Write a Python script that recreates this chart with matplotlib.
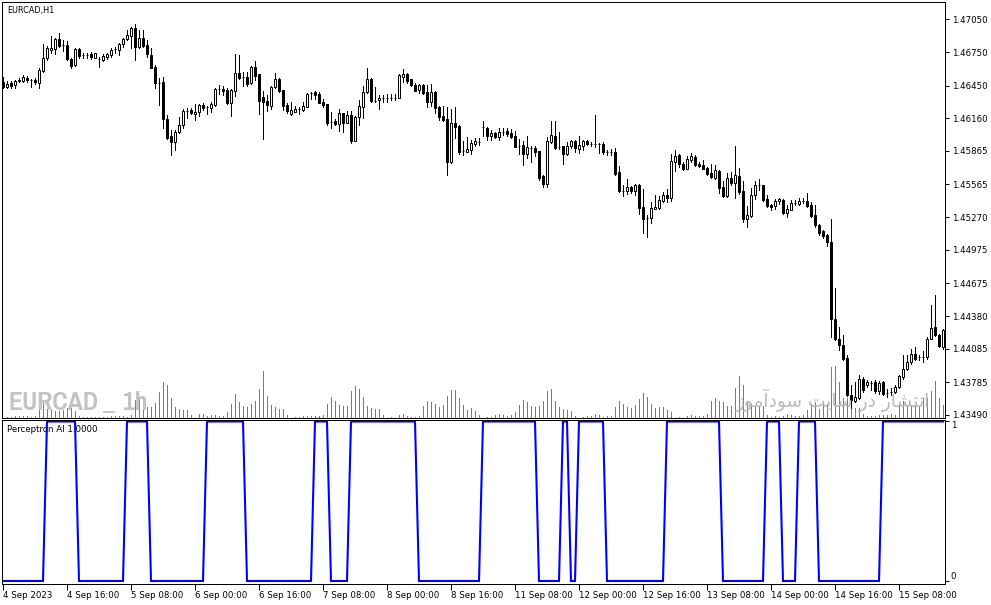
import matplotlib
matplotlib.use("Agg")
import matplotlib.pyplot as plt
from matplotlib import font_manager
from matplotlib.font_manager import FontProperties

# EURCAD H1 bars, 4 Sep 2023 00:00 .. 15 Sep 2023 19:00
opens = [
    1.46486, 1.46435, 1.46471, 1.46456, 1.46492, 1.46492, 1.46522, 1.46501,
    1.46501, 1.46477, 1.46582, 1.46696, 1.46771, 1.46780, 1.46870, 1.46816,
    1.46816, 1.46687, 1.46636, 1.46780, 1.46726, 1.46726, 1.46732, 1.46702,
    1.46687, 1.46678, 1.46711, 1.46726, 1.46777, 1.46771, 1.46822, 1.46870,
    1.46900, 1.46972, 1.46801, 1.46882, 1.46816, 1.46726, 1.46621, 1.46477,
    1.46480, 1.46150, 1.46000, 1.45946, 1.46030, 1.46096, 1.46222, 1.46231,
    1.46192, 1.46210, 1.46276, 1.46255, 1.46252, 1.46276, 1.46420, 1.46420,
    1.46411, 1.46297, 1.46402, 1.46561, 1.46528, 1.46528, 1.46471, 1.46618,
    1.46552, 1.46351, 1.46312, 1.46270, 1.46441, 1.46510, 1.46411, 1.46276,
    1.46195, 1.46216, 1.46240, 1.46231, 1.46261, 1.46381, 1.46390, 1.46375,
    1.46303, 1.46282, 1.46120, 1.46132, 1.46108, 1.46201, 1.46117, 1.46186,
    1.45952, 1.46171, 1.46261, 1.46390, 1.46510, 1.46315, 1.46318, 1.46342,
    1.46342, 1.46342, 1.46342, 1.46342, 1.46531, 1.46552, 1.46507, 1.46456,
    1.46408, 1.46456, 1.46390, 1.46306, 1.46390, 1.46258, 1.46177, 1.46150,
    1.45766, 1.46111, 1.46090, 1.45862, 1.45856, 1.45871, 1.45928, 1.45946,
    1.46081, 1.46072, 1.46000, 1.46027, 1.45991, 1.46036, 1.46042, 1.46021,
    1.45997, 1.45910, 1.45916, 1.45832, 1.45892, 1.45892, 1.45862, 1.45637,
    1.45571, 1.45946, 1.46000, 1.45895, 1.45907, 1.45832, 1.45907, 1.45955,
    1.45877, 1.45910, 1.45955, 1.45922, 1.45922, 1.45922, 1.45928, 1.45850,
    1.45850, 1.45856, 1.45676, 1.45502, 1.45502, 1.45541, 1.45502, 1.45556,
    1.45358, 1.45262, 1.45262, 1.45346, 1.45352, 1.45418, 1.45466, 1.45442,
    1.45766, 1.45826, 1.45751, 1.45700, 1.45787, 1.45811, 1.45748, 1.45736,
    1.45712, 1.45664, 1.45625, 1.45685, 1.45538, 1.45460, 1.45622, 1.45580,
    1.45640, 1.45502, 1.45250, 1.45277, 1.45472, 1.45562, 1.45556, 1.45436,
    1.45376, 1.45367, 1.45412, 1.45427, 1.45310, 1.45337, 1.45397, 1.45391,
    1.45415, 1.45415, 1.45376, 1.45286, 1.45202, 1.45142, 1.45106, 1.45046,
    1.44356, 1.44176, 1.44122, 1.44002, 1.43672, 1.43615, 1.43642, 1.43816,
    1.43762, 1.43777, 1.43786, 1.43702, 1.43786, 1.43687, 1.43696, 1.43696,
    1.43741, 1.43831, 1.43900, 1.43966, 1.44041, 1.44011, 1.44011, 1.44011,
    1.44176, 1.44281, 1.44212, 1.44101,
]
highs = [
    1.46531, 1.46492, 1.46492, 1.46501, 1.46516, 1.46546, 1.46537, 1.46510,
    1.46516, 1.46612, 1.46822, 1.46810, 1.46900, 1.46876, 1.46921, 1.46861,
    1.46852, 1.46702, 1.46792, 1.46786, 1.46741, 1.46741, 1.46750, 1.46747,
    1.46711, 1.46732, 1.46747, 1.46786, 1.46801, 1.46831, 1.46882, 1.46951,
    1.46981, 1.47002, 1.46951, 1.46951, 1.46861, 1.46786, 1.46636, 1.46522,
    1.46531, 1.46186, 1.46051, 1.46051, 1.46171, 1.46237, 1.46252, 1.46252,
    1.46282, 1.46282, 1.46291, 1.46270, 1.46300, 1.46426, 1.46456, 1.46447,
    1.46426, 1.46420, 1.46732, 1.46726, 1.46576, 1.46576, 1.46627, 1.46672,
    1.46558, 1.46402, 1.46366, 1.46450, 1.46561, 1.46522, 1.46411, 1.46291,
    1.46306, 1.46270, 1.46261, 1.46300, 1.46387, 1.46396, 1.46402, 1.46390,
    1.46330, 1.46285, 1.46210, 1.46147, 1.46240, 1.46207, 1.46225, 1.46225,
    1.46180, 1.46321, 1.46450, 1.46612, 1.46516, 1.46441, 1.46366, 1.46366,
    1.46378, 1.46378, 1.46372, 1.46552, 1.46600, 1.46561, 1.46510, 1.46471,
    1.46462, 1.46462, 1.46456, 1.46465, 1.46402, 1.46270, 1.46270, 1.46261,
    1.46240, 1.46261, 1.46096, 1.45952, 1.45991, 1.45961, 1.45976, 1.45982,
    1.46132, 1.46081, 1.46051, 1.46036, 1.46066, 1.46066, 1.46066, 1.46060,
    1.46042, 1.45967, 1.45952, 1.46000, 1.45910, 1.45907, 1.45862, 1.45652,
    1.45991, 1.46132, 1.46132, 1.46030, 1.45907, 1.45946, 1.45958, 1.45961,
    1.46000, 1.45958, 1.45964, 1.45940, 1.46186, 1.45934, 1.45940, 1.45871,
    1.45877, 1.45892, 1.45730, 1.45556, 1.45616, 1.45550, 1.45571, 1.45571,
    1.45526, 1.45286, 1.45406, 1.45466, 1.45460, 1.45496, 1.45526, 1.45832,
    1.45871, 1.45832, 1.45766, 1.45820, 1.45841, 1.45826, 1.45766, 1.45781,
    1.45721, 1.45751, 1.45736, 1.45697, 1.45592, 1.45670, 1.45676, 1.45907,
    1.45712, 1.45592, 1.45370, 1.45532, 1.45592, 1.45616, 1.45562, 1.45466,
    1.45391, 1.45436, 1.45442, 1.45436, 1.45382, 1.45421, 1.45421, 1.45442,
    1.45442, 1.45487, 1.45406, 1.45376, 1.45211, 1.45157, 1.45121, 1.45250,
    1.44632, 1.44281, 1.44212, 1.44026, 1.43756, 1.43786, 1.43852, 1.43831,
    1.43801, 1.43792, 1.43801, 1.43792, 1.43792, 1.43726, 1.43732, 1.43756,
    1.43846, 1.44026, 1.44032, 1.44086, 1.44101, 1.44032, 1.44062, 1.44191,
    1.44476, 1.44572, 1.44221, 1.44266,
]
lows = [
    1.46426, 1.46432, 1.46432, 1.46432, 1.46480, 1.46486, 1.46486, 1.46441,
    1.46462, 1.46432, 1.46576, 1.46681, 1.46741, 1.46732, 1.46801, 1.46762,
    1.46681, 1.46606, 1.46627, 1.46696, 1.46702, 1.46702, 1.46687, 1.46702,
    1.46621, 1.46672, 1.46687, 1.46711, 1.46741, 1.46726, 1.46801, 1.46861,
    1.46786, 1.46681, 1.46786, 1.46801, 1.46711, 1.46606, 1.46426, 1.46276,
    1.46072, 1.45970, 1.45826, 1.45871, 1.46021, 1.46072, 1.46162, 1.46192,
    1.46141, 1.46180, 1.46231, 1.46192, 1.46216, 1.46270, 1.46375, 1.46366,
    1.46285, 1.46180, 1.46360, 1.46510, 1.46450, 1.46450, 1.46462, 1.46504,
    1.46195, 1.45970, 1.46222, 1.46240, 1.46432, 1.46390, 1.46231, 1.46201,
    1.46186, 1.46210, 1.46192, 1.46222, 1.46261, 1.46330, 1.46330, 1.46291,
    1.46261, 1.46096, 1.46072, 1.46096, 1.46042, 1.46036, 1.46111, 1.45937,
    1.45952, 1.46096, 1.46156, 1.46381, 1.46300, 1.46300, 1.46240, 1.46300,
    1.46306, 1.46321, 1.46324, 1.46336, 1.46486, 1.46471, 1.46447, 1.46402,
    1.46387, 1.46372, 1.46261, 1.46270, 1.46207, 1.46141, 1.46132, 1.45646,
    1.45757, 1.45976, 1.45835, 1.45826, 1.45850, 1.45838, 1.45910, 1.45916,
    1.46000, 1.45961, 1.45961, 1.45982, 1.45961, 1.46006, 1.46000, 1.45982,
    1.45895, 1.45832, 1.45736, 1.45802, 1.45766, 1.45820, 1.45607, 1.45541,
    1.45541, 1.45937, 1.45880, 1.45880, 1.45745, 1.45826, 1.45892, 1.45856,
    1.45841, 1.45871, 1.45916, 1.45907, 1.45901, 1.45841, 1.45832, 1.45826,
    1.45826, 1.45646, 1.45496, 1.45460, 1.45481, 1.45487, 1.45466, 1.45301,
    1.45130, 1.45091, 1.45220, 1.45340, 1.45340, 1.45406, 1.45406, 1.45418,
    1.45682, 1.45721, 1.45691, 1.45700, 1.45766, 1.45730, 1.45718, 1.45700,
    1.45652, 1.45622, 1.45616, 1.45490, 1.45448, 1.45451, 1.45562, 1.45442,
    1.45481, 1.45226, 1.45181, 1.45271, 1.45436, 1.45511, 1.45415, 1.45358,
    1.45331, 1.45346, 1.45391, 1.45295, 1.45271, 1.45331, 1.45382, 1.45382,
    1.45397, 1.45361, 1.45268, 1.45181, 1.45112, 1.45082, 1.45010, 1.44191,
    1.44161, 1.44071, 1.43987, 1.43657, 1.43552, 1.43606, 1.43630, 1.43696,
    1.43741, 1.43711, 1.43690, 1.43681, 1.43666, 1.43651, 1.43672, 1.43687,
    1.43732, 1.43816, 1.43891, 1.43951, 1.43981, 1.43987, 1.43966, 1.43996,
    1.44170, 1.44197, 1.44101, 1.44086,
]
closes = [
    1.46441, 1.46465, 1.46450, 1.46492, 1.46501, 1.46528, 1.46501, 1.46501,
    1.46480, 1.46591, 1.46696, 1.46792, 1.46792, 1.46870, 1.46810, 1.46816,
    1.46687, 1.46630, 1.46780, 1.46720, 1.46726, 1.46726, 1.46708, 1.46741,
    1.46687, 1.46720, 1.46732, 1.46771, 1.46777, 1.46822, 1.46870, 1.46906,
    1.46966, 1.46801, 1.46882, 1.46810, 1.46732, 1.46612, 1.46471, 1.46477,
    1.46150, 1.45982, 1.45946, 1.46036, 1.46096, 1.46222, 1.46222, 1.46207,
    1.46216, 1.46276, 1.46252, 1.46255, 1.46282, 1.46420, 1.46420, 1.46405,
    1.46297, 1.46411, 1.46561, 1.46522, 1.46528, 1.46468, 1.46618, 1.46540,
    1.46312, 1.46306, 1.46276, 1.46438, 1.46510, 1.46402, 1.46270, 1.46222,
    1.46231, 1.46243, 1.46240, 1.46270, 1.46378, 1.46381, 1.46366, 1.46297,
    1.46276, 1.46117, 1.46120, 1.46108, 1.46201, 1.46117, 1.46186, 1.45952,
    1.46171, 1.46267, 1.46390, 1.46510, 1.46312, 1.46315, 1.46342, 1.46342,
    1.46342, 1.46342, 1.46342, 1.46546, 1.46552, 1.46495, 1.46456, 1.46402,
    1.46456, 1.46387, 1.46306, 1.46390, 1.46252, 1.46171, 1.46141, 1.45766,
    1.46111, 1.46081, 1.45850, 1.45862, 1.45877, 1.45931, 1.45952, 1.45946,
    1.46081, 1.46000, 1.46027, 1.45991, 1.46036, 1.46036, 1.46012, 1.45991,
    1.45901, 1.45910, 1.45832, 1.45898, 1.45892, 1.45856, 1.45622, 1.45571,
    1.45952, 1.46006, 1.45892, 1.45895, 1.45832, 1.45907, 1.45952, 1.45886,
    1.45916, 1.45952, 1.45925, 1.45922, 1.45922, 1.45922, 1.45850, 1.45850,
    1.45850, 1.45661, 1.45502, 1.45502, 1.45541, 1.45502, 1.45562, 1.45352,
    1.45256, 1.45262, 1.45352, 1.45361, 1.45421, 1.45466, 1.45442, 1.45772,
    1.45820, 1.45751, 1.45700, 1.45790, 1.45817, 1.45742, 1.45730, 1.45706,
    1.45661, 1.45631, 1.45691, 1.45532, 1.45457, 1.45625, 1.45577, 1.45646,
    1.45496, 1.45256, 1.45286, 1.45472, 1.45562, 1.45562, 1.45427, 1.45370,
    1.45364, 1.45412, 1.45430, 1.45307, 1.45340, 1.45400, 1.45397, 1.45418,
    1.45415, 1.45370, 1.45280, 1.45202, 1.45130, 1.45100, 1.45046, 1.44356,
    1.44176, 1.44122, 1.43996, 1.43666, 1.43621, 1.43651, 1.43816, 1.43711,
    1.43786, 1.43777, 1.43702, 1.43780, 1.43681, 1.43687, 1.43696, 1.43741,
    1.43837, 1.43906, 1.43966, 1.44041, 1.43996, 1.44011, 1.44011, 1.44176,
    1.44275, 1.44206, 1.44110, 1.44251,
]
tick_volumes = [
    50, 100, 130, 170, 170, 170, 170, 130, 230, 900, 1470, 900, 800, 670, 730, 800,
    970, 1000, 670, 230, 100, 100, 100, 100, 100, 70, 130, 230, 230, 230, 230, 70,
    330, 1800, 2070, 2130, 1130, 1070, 1470, 2630, 3630, 3330, 2000, 1070, 900, 800, 800, 330,
    50, 430, 430, 230, 330, 330, 230, 230, 570, 1430, 2430, 1570, 1170, 1070, 1430, 1730,
    2930, 4730, 2230, 1330, 1070, 930, 930, 330, 50, 100, 100, 230, 230, 170, 230, 170,
    330, 1430, 2070, 1670, 1330, 1230, 1230, 2670, 3170, 2930, 2070, 1230, 1000, 930, 930, 330,
    50, 100, 50, 330, 430, 230, 100, 100, 230, 1230, 1730, 1600, 1430, 1100, 1330, 2170,
    2830, 2830, 2000, 1330, 830, 1000, 730, 330, 50, 100, 100, 330, 430, 330, 230, 330,
    600, 1330, 1830, 1570, 1230, 1100, 1230, 1730, 2670, 2930, 1730, 1100, 930, 830, 730, 230,
    50, 100, 170, 230, 430, 330, 100, 230, 230, 1100, 1730, 1430, 1100, 1000, 1330, 1930,
    2530, 2130, 1430, 1000, 1130, 1130, 830, 600, 50, 100, 50, 230, 330, 230, 230, 230,
    430, 1730, 2000, 1730, 1600, 1230, 1230, 3000, 4230, 3330, 1670, 1430, 1170, 1170, 1170, 330,
    100, 230, 100, 170, 430, 330, 170, 170, 330, 830, 1430, 1570, 900, 1430, 1400, 5070,
    5170, 3570, 2000, 2000, 2000, 1000, 1000, 430, 170, 170, 230, 330, 330, 330, 430, 330,
    1330, 1670, 1330, 1170, 1170, 1170, 2000, 2000, 2670, 3670, 2000, 1330,
]
perceptron = [
    0, 0, 0, 0, 0, 0, 0, 0, 0, 0, 0, 1, 1, 1, 1, 1,
    1, 1, 1, 0, 0, 0, 0, 0, 0, 0, 0, 0, 0, 0, 0, 1,
    1, 1, 1, 1, 1, 0, 0, 0, 0, 0, 0, 0, 0, 0, 0, 0,
    0, 0, 0, 1, 1, 1, 1, 1, 1, 1, 1, 1, 1, 0, 0, 0,
    0, 0, 0, 0, 0, 0, 0, 0, 0, 0, 0, 0, 0, 0, 1, 1,
    1, 1, 0, 0, 0, 0, 0, 1, 1, 1, 1, 1, 1, 1, 1, 1,
    1, 1, 1, 1, 1, 1, 1, 1, 0, 0, 0, 0, 0, 0, 0, 0,
    0, 0, 0, 0, 0, 0, 0, 0, 1, 1, 1, 1, 1, 1, 1, 1,
    1, 1, 1, 1, 1, 1, 0, 0, 0, 0, 0, 0, 1, 1, 0, 0,
    1, 1, 1, 1, 1, 1, 1, 0, 0, 0, 0, 0, 0, 0, 0, 0,
    0, 0, 0, 0, 0, 0, 1, 1, 1, 1, 1, 1, 1, 1, 1, 1,
    1, 1, 1, 1, 0, 0, 0, 0, 0, 0, 0, 0, 0, 0, 0, 1,
    1, 1, 1, 0, 0, 0, 0, 1, 1, 1, 1, 1, 0, 0, 0, 0,
    0, 0, 0, 0, 0, 0, 0, 0, 0, 0, 0, 0, 1, 1, 1, 1,
    1, 1, 1, 1, 1, 1, 1, 1, 1, 1, 1, 1,
]
price_ticks = [1.47050, 1.46750, 1.46450, 1.46160, 1.45865, 1.45565, 1.45270,
               1.44975, 1.44675, 1.44380, 1.44085, 1.43785, 1.43490]
time_tick_bars = list(range(0, 225, 16))
time_tick_labels = ["4 Sep 2023", "4 Sep 16:00", "5 Sep 08:00", "6 Sep 00:00",
                    "6 Sep 16:00", "7 Sep 08:00", "8 Sep 00:00", "8 Sep 16:00",
                    "11 Sep 08:00", "12 Sep 00:00", "12 Sep 16:00", "13 Sep 08:00",
                    "14 Sep 00:00", "14 Sep 16:00", "15 Sep 08:00"]

W, H = 991, 605
FS = 6.2
PX = 0.72  # one pixel in points
THIN = 0.55  # hairline that rasterises to a single pixel


def rect(x0, y0, x1, y1):
    """pixel box (top-left origin) -> figure fraction rect"""
    return [x0 / W, 1 - y1 / H, (x1 - x0) / W, (y1 - y0) / H]


def narrow_bold_font():
    """pick an installed bold condensed/narrow face for the symbol watermark"""
    best = None
    for f in font_manager.fontManager.ttflist:
        narrow = (f.stretch in ("condensed", "semi-condensed", "extra-condensed")
                  or "Narrow" in f.name or "Condensed" in f.name)
        wt = f.weight if isinstance(f.weight, int) else 400
        if narrow and wt >= 600 and f.fname.lower().endswith((".ttf", ".otf")):
            if best is None or "Narrow" in f.name:
                best = f
    if best is not None:
        return FontProperties(fname=best.fname)
    return FontProperties(family="Liberation Sans", weight="bold")


fig = plt.figure(figsize=(W / 100, H / 100), dpi=100)
fig.patch.set_facecolor("white")

bars = list(range(len(closes)))
xlim = (-0.25, len(closes) - 0.5)

# volume layer sits under the candles, same box
ax_vol = fig.add_axes(rect(2, 2, 945, 418), zorder=1)
ax_vol.vlines(bars, 0, tick_volumes, color="#28b428", lw=THIN, antialiased=False)
ax_vol.set_xlim(*xlim)
ax_vol.set_ylim(0, 41600)
ax_vol.axis("off")

ax = fig.add_axes(rect(2, 2, 945, 418), zorder=2)
ax.set_facecolor("none")
ax.vlines(bars, lows, highs, color="black", lw=THIN, antialiased=False, zorder=2)
faces = ["white" if c >= o else "black" for o, c in zip(opens, closes)]
ax.bar(bars, [c - o for o, c in zip(opens, closes)], bottom=opens, width=0.55,
       color=faces, edgecolor="black", linewidth=PX, zorder=3)
ax.set_xlim(*xlim)
ax.set_ylim(1.43463, 1.47203)
ax.set_xticks([])
ax.yaxis.tick_right()
ax.set_yticks(price_ticks)
ax.set_yticklabels([f"{p:.5f}" for p in price_ticks])
ax.tick_params(axis="y", direction="out", length=3, width=PX, pad=2,
               labelsize=FS, colors="black")
for s in ax.spines.values():
    s.set_linewidth(PX)
    s.set_color("black")

fig.text(7 / W, 1 - 10 / H, "EURCAD,H1", fontsize=5.9, va="center", ha="left")

# watermarks
wm_font = narrow_bold_font()
wm_font.set_size(22)
wm = dict(fontproperties=wm_font, color="#c3c3c3", va="baseline", zorder=5)
t_sym = fig.text(8 / W, 1 - 410 / H, "EURCAD", **wm)
t_bar = fig.text(103 / W, 1 - 410 / H, "_", **wm)
t_tf = fig.text(123 / W, 1 - 410 / H, "1h", **wm)
persian = ("\uFEAF\uFEEE\uFEE3\uFE81\uFEA9\uFEEE\uFEB3 \uFE96\uFEF3\uFE8E\uFEB3 "
           "\uFEAD\uFEA9 \uFEAD\uFE8E\uFEB8\uFE98\uFEE7\uFE8D")
t_fa = fig.text(930 / W, 1 - 407 / H, persian, fontsize=14.5, color="#b4b4b4",
                alpha=0.9, ha="right", va="baseline", family=["DejaVu Sans"], zorder=5)

# fit watermark widths to the space they take in the chart
fig.canvas.draw()
r = fig.canvas.get_renderer()
k = 90 / t_sym.get_window_extent(r).width
for t in (t_sym, t_bar, t_tf):
    t.set_fontsize(min(22 * k, 24))
t_fa.set_fontsize(14.5 * 195 / t_fa.get_window_extent(r).width)

# indicator pane
ax2 = fig.add_axes(rect(2, 420, 945, 583.5))
ax2.plot(bars, perceptron, color="#0000ff", lw=1.5, solid_joinstyle="miter")
ax2.set_xlim(*xlim)
ax2.set_ylim(-0.0157, 1.0094)
ax2.yaxis.tick_right()
ax2.set_yticks([1, 0])
ax2.set_yticklabels([])
ax2.tick_params(axis="y", direction="out", length=3, width=PX)
ax2.text(1.006, 1, "1", transform=ax2.get_yaxis_transform(), fontsize=FS,
         va="top", ha="left")
ax2.text(1.006, 0, "0", transform=ax2.get_yaxis_transform(), fontsize=FS,
         va="bottom", ha="left")
ax2.set_xticks(time_tick_bars)
ax2.set_xticklabels(time_tick_labels, ha="left")
ax2.tick_params(axis="x", direction="out", length=4, width=PX, pad=1.5,
                labelsize=FS)
for s in ax2.spines.values():
    s.set_linewidth(PX)
    s.set_color("black")
ax2.text(7 / W, 1 - 430 / H, "Perceptron AI 1.0000", transform=fig.transFigure,
         fontsize=FS, va="center", ha="left")

fig.savefig("out.png", dpi=100, facecolor="white")
